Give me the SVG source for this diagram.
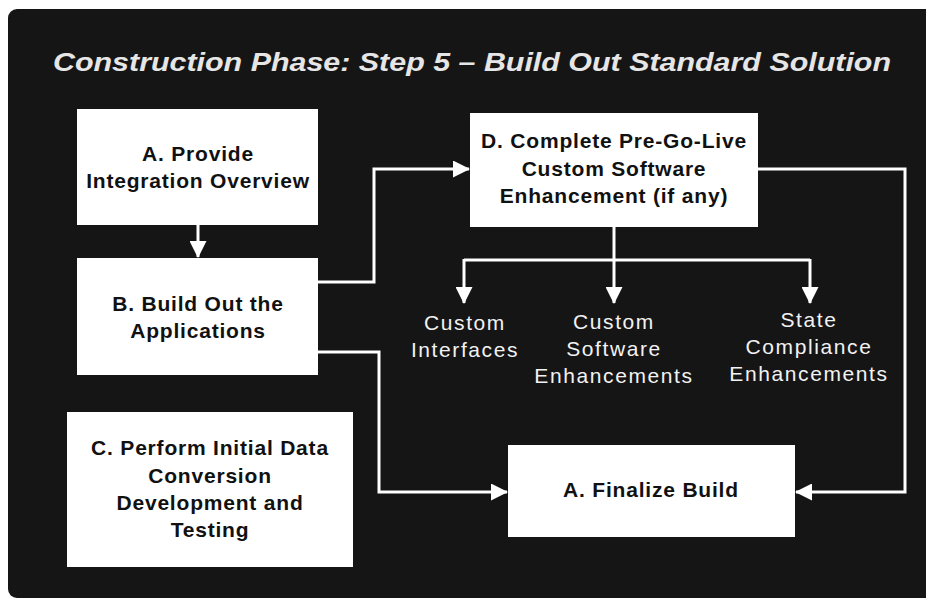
<svg xmlns="http://www.w3.org/2000/svg" width="926" height="601" viewBox="0 0 926 601">
  <defs>
    <style>
      .box { fill: #ffffff; }
      .bt { font-family: "Liberation Sans", Arial, sans-serif; font-weight: bold; font-size: 21px; fill: #111111; text-anchor: middle; letter-spacing: 0.8px; }
      .lt { font-family: "Liberation Sans", Arial, sans-serif; font-size: 21px; fill: #f2f2f2; text-anchor: middle; letter-spacing: 1.6px; }
      .title { font-family: "Liberation Sans", Arial, sans-serif; font-weight: bold; font-style: italic; font-size: 26px; fill: #e6e6e6; text-anchor: middle; }
      .con { fill: none; stroke: #ffffff; stroke-width: 3; }
    </style>
    <marker id="arr" viewBox="0 0 17 17" markerUnits="userSpaceOnUse" markerWidth="17" markerHeight="17" refX="16" refY="8.5" orient="auto">
      <path d="M0,0 L17,8.5 L0,17 z" fill="#ffffff"/>
    </marker>
  </defs>
  <rect x="0" y="0" width="926" height="601" fill="#ffffff"/>
  <rect x="8" y="9" width="940" height="589" rx="9" fill="#161515"/>
  <text class="title" x="472" y="71" textLength="838" lengthAdjust="spacingAndGlyphs">Construction Phase: Step 5 – Build Out Standard Solution</text>

  <g id="connectors">
    <path class="con" d="M198,225 V257" marker-end="url(#arr)"/>
    <path class="con" d="M318,282 H374 V169 H469" marker-end="url(#arr)"/>
    <path class="con" d="M318,352 H379 V492 H507" marker-end="url(#arr)"/>
    <path class="con" d="M757,169 H905 V492 H796" marker-end="url(#arr)"/>
    <path class="con" d="M614,227 V303" marker-end="url(#arr)"/>
    <path class="con" d="M464,260 H810"/>
    <path class="con" d="M464,259 V303" marker-end="url(#arr)"/>
    <path class="con" d="M810,259 V303" marker-end="url(#arr)"/>
  </g>

  <g id="nodeA">
    <rect class="box" x="77" y="109" width="241" height="116"/>
    <text class="bt" x="198" y="161">A. Provide</text>
    <text class="bt" x="198" y="188">Integration Overview</text>
  </g>
  <g id="nodeB">
    <rect class="box" x="77" y="258" width="241" height="117"/>
    <text class="bt" x="198" y="311">B. Build Out the</text>
    <text class="bt" x="198" y="338">Applications</text>
  </g>
  <g id="nodeC">
    <rect class="box" x="67" y="412" width="286" height="155"/>
    <text class="bt" x="210" y="455">C. Perform Initial Data</text>
    <text class="bt" x="210" y="483">Conversion</text>
    <text class="bt" x="210" y="510">Development and</text>
    <text class="bt" x="210" y="537">Testing</text>
  </g>
  <g id="nodeD">
    <rect class="box" x="470" y="113" width="288" height="114"/>
    <text class="bt" x="614" y="148">D. Complete Pre-Go-Live</text>
    <text class="bt" x="614" y="176">Custom Software</text>
    <text class="bt" x="614" y="203">Enhancement (if any)</text>
  </g>
  <g id="nodeFinal">
    <rect class="box" x="508" y="445" width="287" height="92"/>
    <text class="bt" x="651" y="497">A. Finalize Build</text>
  </g>
  <g id="labelInterfaces">
    <text class="lt" x="465" y="330">Custom</text>
    <text class="lt" x="465" y="357">Interfaces</text>
  </g>
  <g id="labelSoftware">
    <text class="lt" x="614" y="329">Custom</text>
    <text class="lt" x="614" y="356">Software</text>
    <text class="lt" x="614" y="383">Enhancements</text>
  </g>
  <g id="labelState">
    <text class="lt" x="809" y="327">State</text>
    <text class="lt" x="809" y="354">Compliance</text>
    <text class="lt" x="809" y="381">Enhancements</text>
  </g>
</svg>
